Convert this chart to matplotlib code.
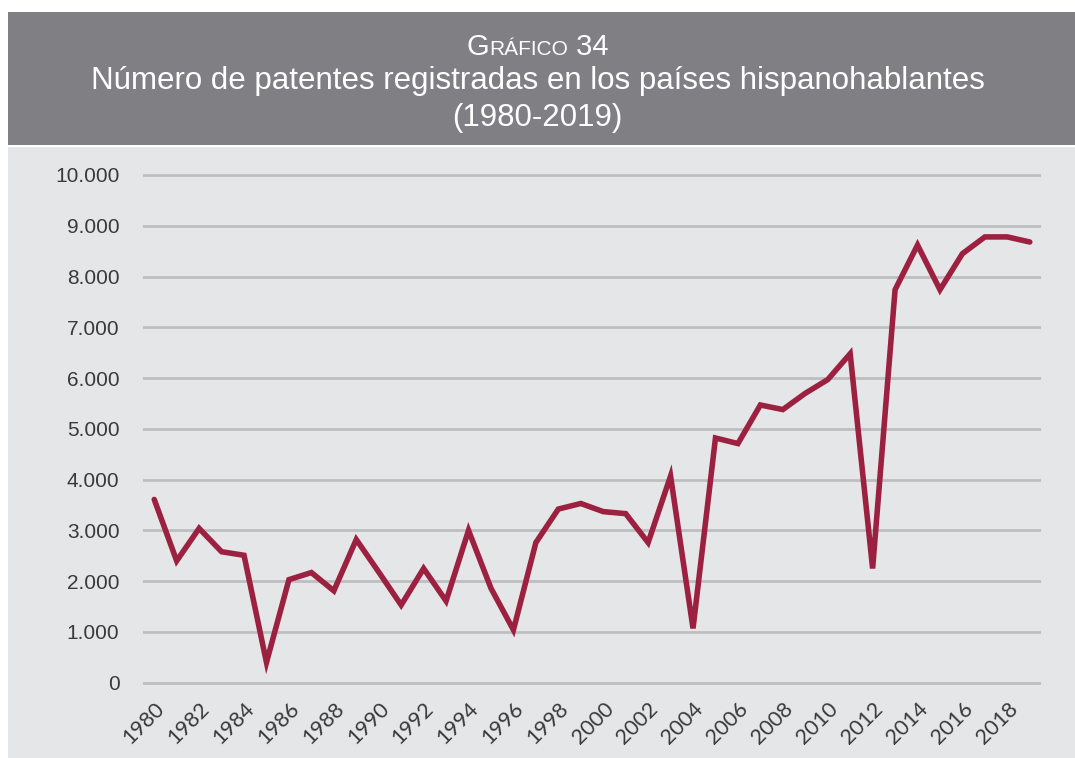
import matplotlib
matplotlib.use("Agg")
import matplotlib.pyplot as plt
from matplotlib.patches import Rectangle

# Values
years = list(range(1980, 2020))
patents = [
    3610, 2400, 3040, 2580, 2510, 400, 2030, 2170, 1810, 2820,
    2180, 1530, 2250, 1610, 3000, 1860, 1040, 2760, 3420, 3530,
    3370, 3330, 2760, 4070, 1070, 4820, 4710, 5470, 5380, 5700,
    5970, 6480, 2250, 7740, 8620, 7740, 8450, 8780, 8780, 8680,
]
y_ticks = [0, 1000, 2000, 3000, 4000, 5000, 6000, 7000, 8000, 9000, 10000]
y_tick_labels = ["0", "1.000", "2.000", "3.000", "4.000", "5.000",
                 "6.000", "7.000", "8.000", "9.000", "10.000"]
x_tick_labels = [str(y) for y in years[::2]]

W, H = 1075, 758
HEADER = "#808084"
PANEL = "#e5e6e8"
LINE = "#9c2140"
GRID = "#bdbec0"
TEXT = "#3a3a3a"

fig = plt.figure(figsize=(W / 100, H / 100), dpi=100)
fig.patch.set_facecolor("white")

# header band and panel background (figure pixel coords)
def px_rect(x0, y0, x1, y1, color):
    fig.patches.append(Rectangle((x0 / W, 1 - y1 / H), (x1 - x0) / W, (y1 - y0) / H,
                                 transform=fig.transFigure, facecolor=color,
                                 edgecolor="none", zorder=-10))

px_rect(8, 12, W, 145, HEADER)
px_rect(8, 147, W, H, PANEL)

# title lines
title_font = ["Liberation Sans", "DejaVu Sans"]
fig.text(0.5, 1 - 81 / H, "Número de patentes registradas en los países hispanohablantes",
         ha="center", va="center", color="white", fontsize=22.5, family=title_font)
fig.text(0.5, 1 - 118 / H, "(1980-2019)",
         ha="center", va="center", color="white", fontsize=22.5, family=title_font)

# "GRÁFICO 34" in small caps, built from pieces
pieces = [("G", 21), ("RÁFICO", 15), (" 34", 21)]
fig.canvas.draw()
renderer = fig.canvas.get_renderer()
objs = []
for s, fs in pieces:
    t = fig.text(0, 1 - 55 / H, s, ha="left", va="baseline", color="white",
                 fontsize=fs, family=title_font)
    objs.append(t)
widths = [t.get_window_extent(renderer).width for t in objs]
x = (W - sum(widths)) / 2
for t, w in zip(objs, widths):
    t.set_x(x / W)
    x += w

# plot area
ax_left, ax_right = 143, 1041
ax = fig.add_axes([ax_left / W, 1 - 687.8 / H, (ax_right - ax_left) / W, (687.8 - 169.9) / H])
ax.patch.set_alpha(0)

idx = list(range(len(years)))
ax.plot(idx, patents, color=LINE, linewidth=4, solid_joinstyle="miter",
        solid_capstyle="round", zorder=3)

ax.set_xlim(-0.5, len(years) - 0.5)
ax.set_ylim(-100, 10100)
ax.set_yticks(y_ticks)
ax.set_yticklabels(y_tick_labels)
ax.set_xticks(idx[::2])
ax.set_xticklabels(x_tick_labels, rotation=45, ha="right", va="top",
                   rotation_mode="anchor")
for lab in ax.get_xticklabels():
    lab.set_fontfamily(["Lato", "DejaVu Sans"])
    lab.set_fontsize(15.5)
    lab.set_color(TEXT)
for lab in ax.get_yticklabels():
    lab.set_fontfamily(["Liberation Sans", "DejaVu Sans"])
    lab.set_fontsize(15)
    lab.set_color(TEXT)

ax.tick_params(axis="both", length=0)
ax.tick_params(axis="y", pad=17)
ax.tick_params(axis="x", pad=8)
ax.grid(axis="y", color=GRID, linewidth=2)
ax.set_axisbelow(True)
for sp in ax.spines.values():
    sp.set_visible(False)

fig.savefig("out.png", dpi=100, facecolor=fig.get_facecolor())
